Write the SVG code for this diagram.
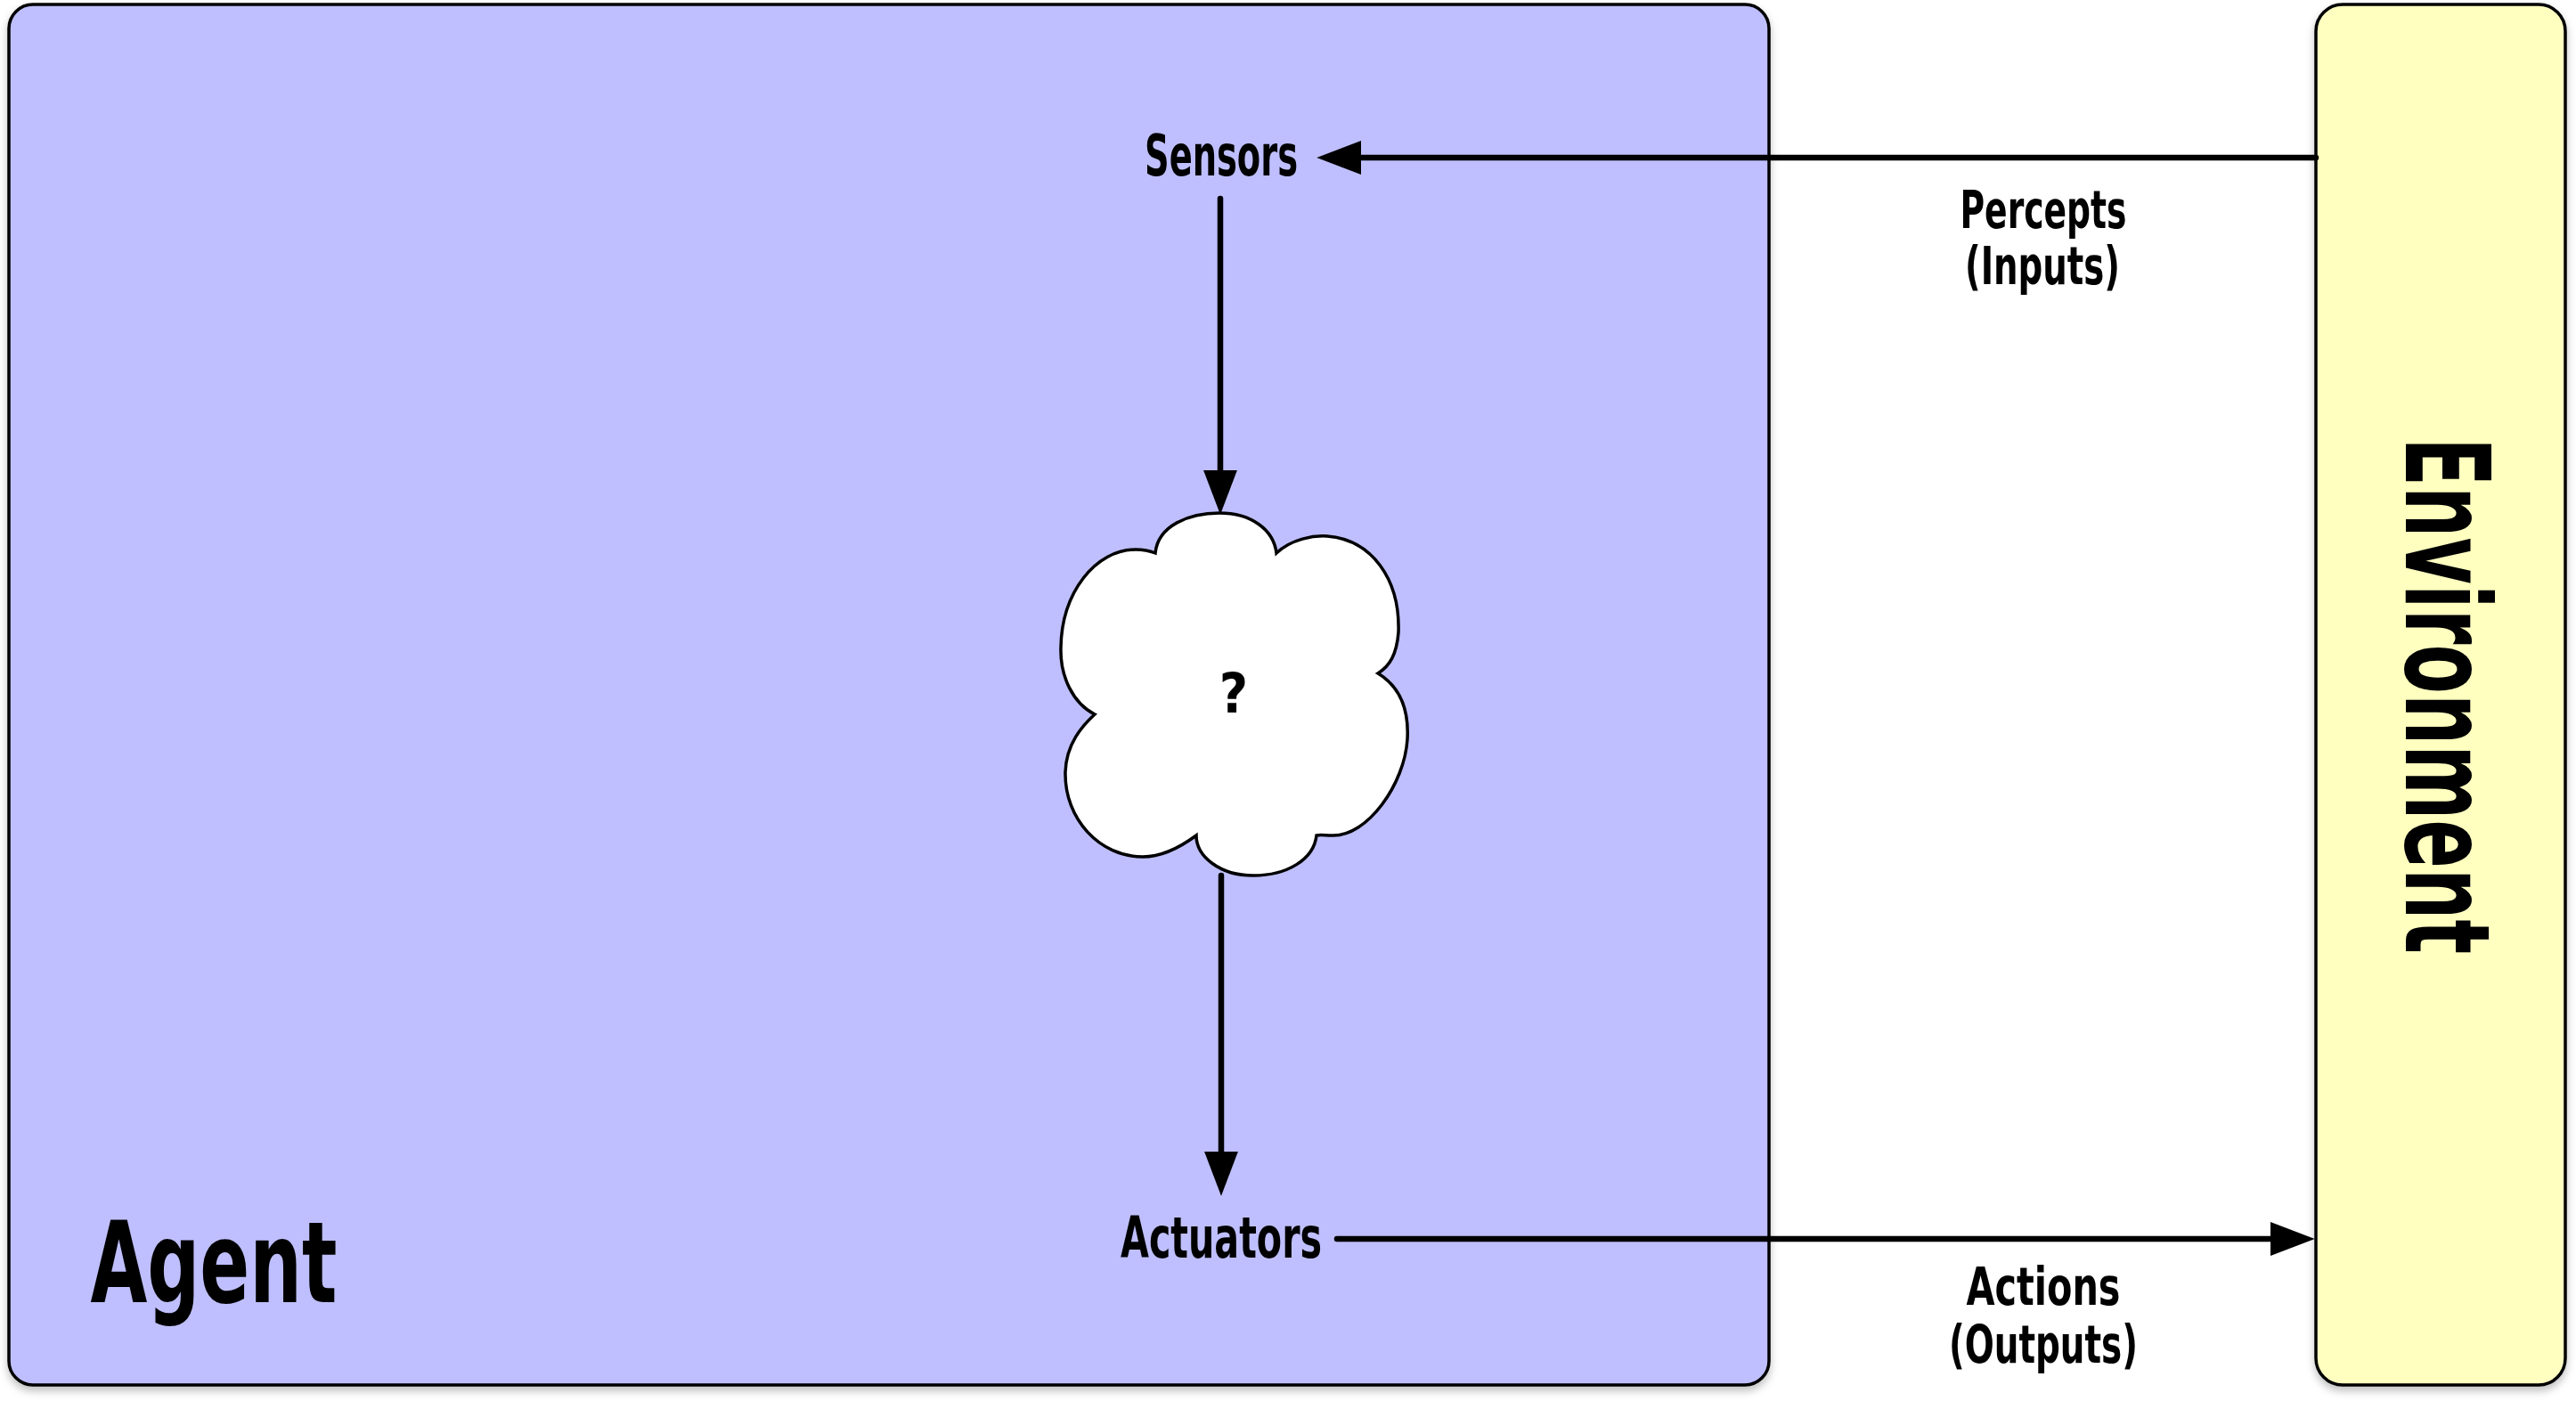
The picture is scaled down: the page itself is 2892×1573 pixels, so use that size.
<svg xmlns="http://www.w3.org/2000/svg" width="2892" height="1573" viewBox="0 0 2892 1573">
<style>
.box{stroke:#000;stroke-width:3.5}
.lbl{font-family:"Liberation Sans Narrow","DejaVu Sans Condensed","Liberation Sans",sans-serif;font-weight:bold;fill:#000;text-anchor:middle}
.sm{font-size:58px}
.conn{stroke:#000;stroke-width:6.5;fill:none;stroke-linecap:round}
</style>
<defs>
<filter id="sh" x="-5%" y="-5%" width="110%" height="110%">
<feDropShadow dx="0" dy="5" stdDeviation="5" flood-color="#000" flood-opacity="0.25"/>
</filter>
<marker id="ah" markerUnits="userSpaceOnUse" markerWidth="50" markerHeight="40" viewBox="0 0 46 35" refX="26" refY="17.5" orient="auto">
<path d="M0,0 L46,17.5 L0,35 z" fill="#000"/>
</marker>
</defs>
<rect width="2892" height="1573" fill="#fff"/>
<g id="agent">
<rect class="box" x="10" y="5" width="1976" height="1550" rx="27" fill="#BFBFFF" filter="url(#sh)"/>
<text class="lbl" x="240" y="1462" font-size="126" textLength="277" lengthAdjust="spacingAndGlyphs">Agent</text>
</g>
<g id="environment">
<rect class="box" x="2600" y="5" width="280" height="1550" rx="30" fill="#FFFFC0" filter="url(#sh)"/>
<text class="lbl" transform="translate(2701,781) rotate(90)" x="0" y="0" font-size="132" textLength="580" lengthAdjust="spacingAndGlyphs">Environment</text>
</g>
<g id="sensors">
<text class="lbl" x="1371" y="197" font-size="64" textLength="172" lengthAdjust="spacingAndGlyphs">Sensors</text>
</g>
<g id="actuators">
<text class="lbl" x="1371" y="1412" font-size="64" textLength="226" lengthAdjust="spacingAndGlyphs">Actuators</text>
</g>
<g id="cloud">
<path class="box" fill="#fff" stroke-width="4" d="M1297,621 C1300,590 1335,576 1369,576 C1405,576 1430,595 1433,621 C1450,605 1475,601 1490,602 C1540,606 1572,650 1570,710 C1568,735 1560,748 1547,756 C1570,770 1582,795 1580,830 C1577,880 1535,940 1495,938 C1488,938 1482,937 1478,938 C1475,965 1445,983 1407,983 C1370,983 1343,962 1343,938 C1320,955 1300,962 1283,962 C1235,962 1195,920 1196,867 C1197,835 1215,815 1229,802 C1205,790 1190,760 1191,727 C1192,665 1230,617 1275,617 C1285,617 1292,619 1297,621 Z"/>
<text class="lbl" x="1385" y="800" font-size="62">?</text>
</g>
<g id="connectors">
<line class="conn" x1="2600" y1="177" x2="1500" y2="177" marker-end="url(#ah)"/>
<line class="conn" x1="1370" y1="223" x2="1370" y2="556" marker-end="url(#ah)"/>
<line class="conn" x1="1371" y1="983" x2="1371" y2="1321" marker-end="url(#ah)"/>
<line class="conn" x1="1501" y1="1391" x2="2577" y2="1391" marker-end="url(#ah)"/>
<text class="lbl sm" x="2294" y="256" textLength="187" lengthAdjust="spacingAndGlyphs">Percepts</text>
<text class="lbl sm" x="2293" y="319" textLength="174" lengthAdjust="spacingAndGlyphs">(Inputs)</text>
<text class="lbl sm" x="2294" y="1465" textLength="173" lengthAdjust="spacingAndGlyphs">Actions</text>
<text class="lbl sm" x="2294" y="1530" textLength="212" lengthAdjust="spacingAndGlyphs">(Outputs)</text>
</g>
</svg>
